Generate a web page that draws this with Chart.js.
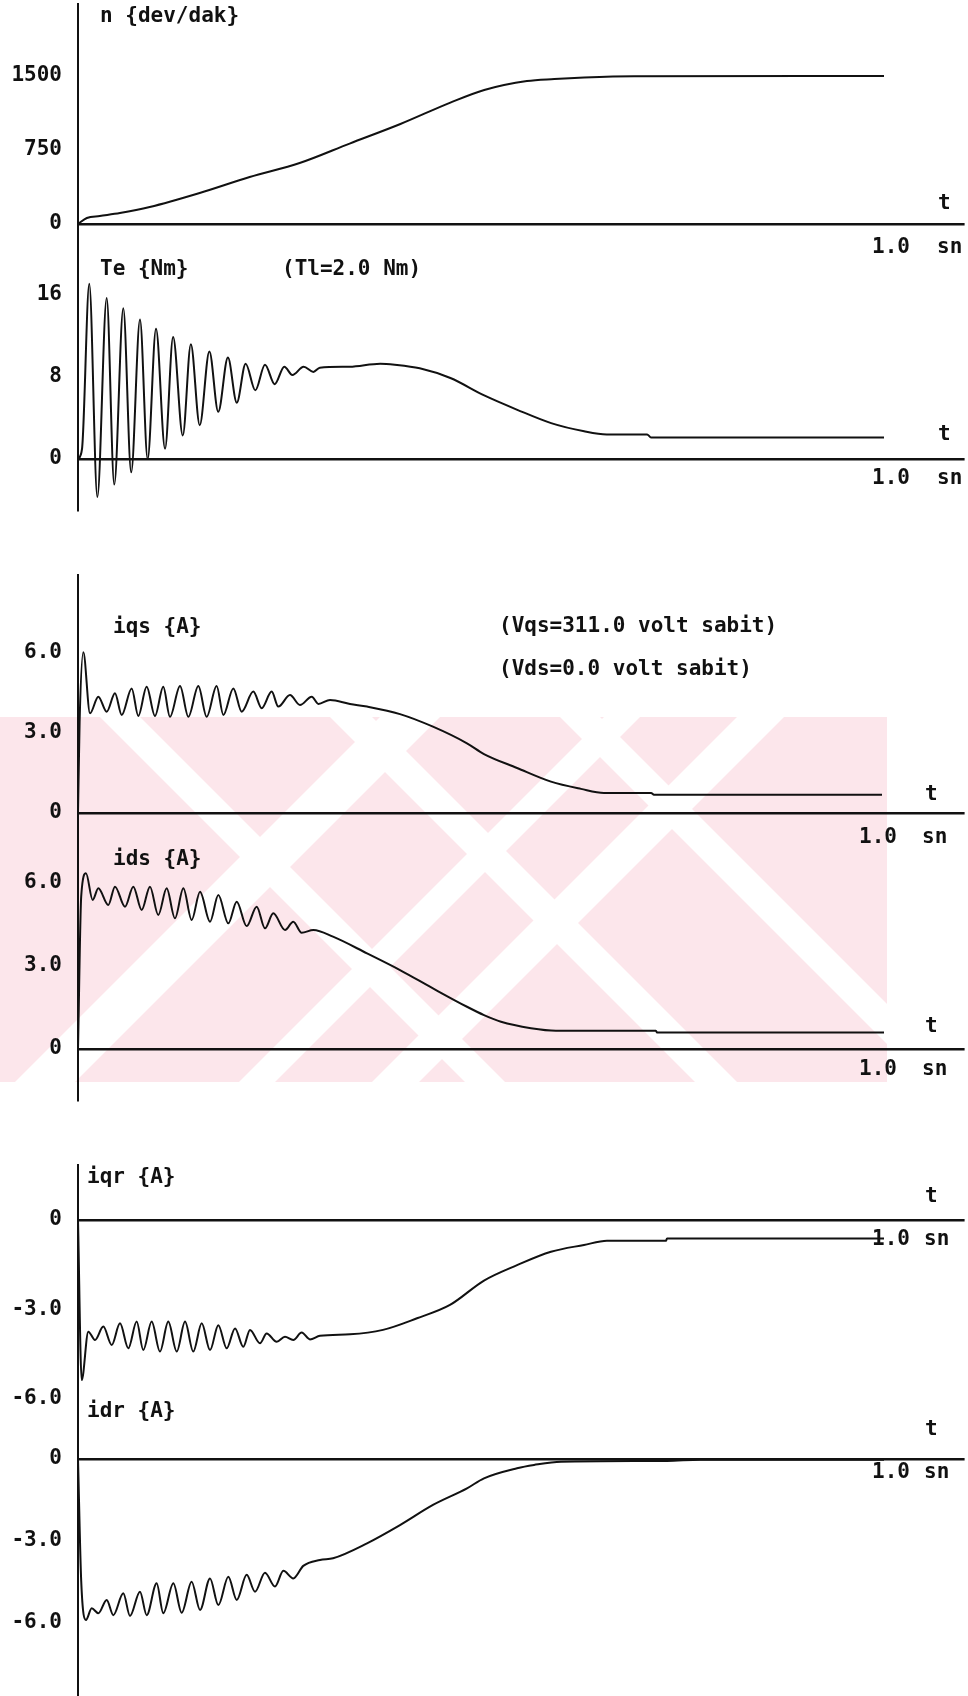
<!DOCTYPE html>
<html><head><meta charset="utf-8">
<script src="https://cdn.jsdelivr.net/npm/chart.js@4.4.0/dist/chart.umd.min.js"></script>
<style>
html,body{margin:0;padding:0;background:#fff;}
#page{position:relative;width:968px;height:1696px;overflow:hidden;background:#fff;}
#page canvas{position:absolute;left:0;}
</style></head>
<body><div id="page"></div>
<script>
// ---------------- data (time in s) ----------------
const nTime   = [0, 0.011, 0.027, 0.052, 0.089, 0.151, 0.213, 0.275, 0.337, 0.400, 0.462, 0.504, 0.557, 0.591, 0.628, 0.690, 1.000];
const nValues = [0, 61, 81, 111, 172, 314, 476, 618, 815, 1013, 1230, 1358, 1449, 1469, 1484, 1497, 1500];

const teTime   = [0, 0.005, 0.014, 0.024, 0.0356, 0.045, 0.0562, 0.066, 0.0769, 0.0864, 0.0968, 0.108, 0.118, 0.130, 0.140, 0.151, 0.163, 0.174, 0.186, 0.197, 0.208, 0.220, 0.232, 0.244, 0.256, 0.266, 0.280, 0.292, 0.300, 0.337, 0.375, 0.393, 0.424, 0.462, 0.504, 0.545, 0.587, 0.628, 0.656, 0.706, 0.711, 1.000];
const teValues = [0, 1.0, 17.1, -3.7, 15.7, -2.5, 14.7, -1.3, 13.6, 0.0, 12.7, 1.0, 11.9, 2.3, 11.2, 3.3, 10.5, 4.6, 9.9, 5.5, 9.3, 6.7, 9.2, 7.3, 9.0, 8.2, 9.0, 8.5, 8.9, 9.0, 9.3, 9.2, 8.85, 7.9, 6.2, 4.8, 3.5, 2.7, 2.4, 2.4, 2.1, 2.1];

const iqsTime   = [0, 0.002, 0.0066, 0.0149, 0.0252, 0.0356, 0.0459, 0.0542, 0.0666, 0.0748, 0.0852, 0.0955, 0.1058, 0.1141, 0.1266, 0.1369, 0.1493, 0.1596, 0.172, 0.1803, 0.1927, 0.2031, 0.2175, 0.2279, 0.2403, 0.2485, 0.263, 0.2754, 0.29, 0.2982, 0.3127, 0.3375, 0.3586, 0.3995, 0.4404, 0.4826, 0.5037, 0.5447, 0.5868, 0.624, 0.6526, 0.711, 0.7146, 0.9975];
const iqsValues = [0, 3.4, 6.0, 3.72, 4.34, 3.78, 4.47, 3.66, 4.65, 3.62, 4.71, 3.62, 4.71, 3.59, 4.74, 3.59, 4.74, 3.59, 4.74, 3.66, 4.65, 3.78, 4.53, 3.91, 4.53, 3.97, 4.40, 4.03, 4.34, 4.07, 4.22, 4.07, 3.97, 3.69, 3.22, 2.6, 2.2, 1.68, 1.17, 0.9, 0.75, 0.75, 0.68, 0.68];

const idsTime   = [0, 0.004, 0.0099, 0.0182, 0.0252, 0.0376, 0.0459, 0.0583, 0.0686, 0.079, 0.0893, 0.0996, 0.11, 0.1203, 0.1307, 0.141, 0.1514, 0.1638, 0.1741, 0.1865, 0.1969, 0.2093, 0.2217, 0.232, 0.2423, 0.2568, 0.2671, 0.2775, 0.292, 0.3164, 0.3586, 0.3995, 0.4404, 0.4826, 0.5037, 0.5248, 0.562, 0.593, 0.717, 0.7184, 1.0];
const idsValues = [0, 5.5, 6.32, 5.36, 5.78, 5.18, 5.84, 5.12, 5.84, 5.0, 5.84, 4.82, 5.78, 4.70, 5.78, 4.64, 5.66, 4.58, 5.54, 4.52, 5.30, 4.42, 5.12, 4.34, 4.88, 4.28, 4.58, 4.18, 4.28, 4.04, 3.44, 2.84, 2.18, 1.52, 1.22, 0.98, 0.75, 0.66, 0.66, 0.59, 0.59];

const iqrTime   = [0, 0.0046, 0.0128, 0.0211, 0.0314, 0.0418, 0.0521, 0.0624, 0.0728, 0.081, 0.0914, 0.1017, 0.112, 0.1225, 0.1328, 0.143, 0.1535, 0.1638, 0.1741, 0.1845, 0.1948, 0.2051, 0.2134, 0.2258, 0.2341, 0.2465, 0.2568, 0.2671, 0.2775, 0.2878, 0.3002, 0.3375, 0.3784, 0.4206, 0.4615, 0.5037, 0.5447, 0.5868, 0.6278, 0.6563, 0.7295, 0.7308, 1.0];
const iqrValues = [0, -5.39, -3.76, -4.04, -3.59, -4.21, -3.48, -4.32, -3.42, -4.38, -3.42, -4.43, -3.42, -4.43, -3.42, -4.43, -3.48, -4.38, -3.54, -4.32, -3.65, -4.27, -3.70, -4.15, -3.82, -4.10, -3.93, -4.04, -3.79, -4.02, -3.9, -3.85, -3.70, -3.31, -2.86, -2.04, -1.52, -1.07, -0.84, -0.70, -0.70, -0.62, -0.62];

const idrTime   = [0, 0.004, 0.0099, 0.017, 0.0252, 0.0356, 0.0438, 0.0562, 0.0645, 0.0769, 0.0852, 0.0976, 0.1058, 0.1183, 0.1286, 0.141, 0.1514, 0.1638, 0.1741, 0.1865, 0.1969, 0.2093, 0.2196, 0.232, 0.2444, 0.2548, 0.2671, 0.2795, 0.3002, 0.3164, 0.3586, 0.3995, 0.4404, 0.4826, 0.5037, 0.5447, 0.5658, 0.5993, 0.7308, 0.772, 1.0];
const idrValues = [0, -4.5, -5.92, -5.49, -5.67, -5.18, -5.74, -4.94, -5.77, -4.88, -5.74, -4.57, -5.67, -4.57, -5.65, -4.51, -5.55, -4.39, -5.37, -4.33, -5.18, -4.26, -4.88, -4.18, -4.69, -4.11, -4.39, -3.93, -3.71, -3.65, -3.10, -2.43, -1.69, -1.08, -0.71, -0.34, -0.22, -0.10, -0.07, -0.03, -0.03];

// tick values and labels
const nTicks = [0, 750, 1500];        const nTickLabels = ['0', '750', '1500'];
const teTicks = [0, 8, 16];           const teTickLabels = ['0', '8', '16'];
const iqsTicks = [0, 3, 6];           const iqsTickLabels = ['0', '3.0', '6.0'];
const idsTicks = [0, 3, 6];           const idsTickLabels = ['0', '3.0', '6.0'];
const iqrTicks = [0, -3, -6];         const iqrTickLabels = ['0', '-3.0', '-6.0'];
const idrTicks = [0, -3, -6];         const idrTickLabels = ['0', '-3.0', '-6.0'];

// texts
const nTexts   = [['n {dev/dak}', 100, 17], ['t', 938, 204], ['1.0', 872, 248], ['sn', 937, 248]];
const teTexts  = [['Te {Nm}', 100, 270], ['(Tl=2.0 Nm)', 282, 270], ['t', 938, 435], ['1.0', 872, 479], ['sn', 937, 479]];
const iqsTexts = [['iqs {A}', 113, 628], ['(Vqs=311.0 volt sabit)', 499, 627], ['(Vds=0.0 volt sabit)', 499, 670], ['t', 925, 795], ['1.0', 859, 838], ['sn', 922, 838]];
const idsTexts = [['ids {A}', 113, 860], ['t', 925, 1027], ['1.0', 859, 1070], ['sn', 922, 1070]];
const iqrTexts = [['iqr {A}', 87, 1178], ['t', 925, 1197], ['1.0', 872, 1240], ['sn', 924, 1240]];
const idrTexts = [['idr {A}', 87, 1412], ['t', 925, 1430], ['1.0', 872, 1473], ['sn', 924, 1473]];

// ---------------- drawing ----------------
const PAGE_H = 1696, PAGE_W = 968;
const FAMILY = '"DejaVu Sans Mono", "Liberation Mono", monospace';
const FONT = {family: FAMILY, size: 21, weight: 'bold'};
const INK = '#111';
const page = document.getElementById('page');

// faint pink watermark of the scanned page (background decoration only)
(function () {
  const wm = document.createElement('canvas');
  wm.width = PAGE_W; wm.height = PAGE_H; wm.style.top = '0px';
  page.appendChild(wm);
  const g = wm.getContext('2d');
  const T = 717, B = 1082, R = 887, H = B - T;
  g.save();
  g.beginPath(); g.rect(0, T, R, H); g.clip();
  g.fillStyle = '#fce6eb';
  g.fillRect(0, T, R, H);
  g.fillStyle = '#ffffff';
  // "\" white stripes: x - (y - T) in [a, b]
  [[100, 140], [330, 372], [560, 600]].forEach(([a, b]) => {
    g.beginPath(); g.moveTo(a, T); g.lineTo(b, T); g.lineTo(b + H, B); g.lineTo(a + H, B); g.closePath(); g.fill();
  });
  // "/" white stripes: x + (y - T) in [a, b]
  [[380, 440], [604, 640], [737, 784]].forEach(([a, b]) => {
    g.beginPath(); g.moveTo(a, T); g.lineTo(b, T); g.lineTo(b - H, B); g.lineTo(a - H, B); g.closePath(); g.fill();
  });
  g.restore();
})();

function textPlugin(items, canvasTop) {
  return {
    id: 'txt',
    afterDraw(chart) {
      const ctx = chart.ctx;
      ctx.save();
      ctx.font = 'bold 21px ' + FAMILY;
      ctx.fillStyle = INK;
      ctx.textBaseline = 'middle';
      ctx.textAlign = 'left';
      items.forEach(it => ctx.fillText(it[0], it[1], it[2] - canvasTop));
      ctx.restore();
    }
  };
}

function makePanel(cfg) {
  const MARGIN = 16;
  const cTop = Math.max(0, cfg.top - MARGIN);
  const cBot = Math.min(PAGE_H, cfg.bottom + MARGIN);
  const cv = document.createElement('canvas');
  cv.width = PAGE_W; cv.height = cBot - cTop;
  cv.style.top = cTop + 'px';
  page.appendChild(cv);
  const yMax = (cfg.zeroY - cfg.top) / cfg.unitPx;
  const yMin = -(cfg.bottom - cfg.zeroY) / cfg.unitPx;
  const pts = cfg.time.map((t, i) => ({x: t, y: cfg.values[i]}));
  new Chart(cv, {
    type: 'line',
    data: {datasets: [{data: pts, borderColor: INK, borderWidth: 2, pointRadius: 0,
      cubicInterpolationMode: 'monotone', fill: false}]},
    options: {
      responsive: false, animation: false, devicePixelRatio: 1,
      layout: {padding: {left: 0, right: 3.4, top: cfg.top - cTop, bottom: cBot - cfg.bottom}},
      plugins: {legend: {display: false}, tooltip: {enabled: false}},
      scales: {
        x: {type: 'linear', min: 0, max: 1.1, display: false},
        y: {
          type: 'linear', min: yMin, max: yMax,
          afterFit(s) { s.width = 78; s.paddingTop = 0; s.paddingBottom = 0; },
          afterBuildTicks(s) { s.ticks = cfg.ticks.map(v => ({value: v})); },
          ticks: {
            autoSkip: false,
            callback: (v) => { const i = cfg.ticks.indexOf(v); return i >= 0 ? cfg.tickLabels[i] : ''; },
            font: FONT, color: INK, padding: 16
          },
          grid: {
            drawTicks: false,
            color: (c) => (c.tick && c.tick.value === 0) ? INK : 'rgba(0,0,0,0)',
            lineWidth: (c) => (c.tick && c.tick.value === 0) ? 2.6 : 0
          },
          border: {display: true, color: INK, width: 2}
        }
      }
    },
    plugins: [textPlugin(cfg.texts, cTop)]
  });
}

makePanel({top: 4,    bottom: 262,  zeroY: 224,  unitPx: 0.0987, time: nTime,   values: nValues,   ticks: nTicks,   tickLabels: nTickLabels,   texts: nTexts});
makePanel({top: 262,  bottom: 510,  zeroY: 459,  unitPx: 10.25,  time: teTime,  values: teValues,  ticks: teTicks,  tickLabels: teTickLabels,  texts: teTexts});
makePanel({top: 575,  bottom: 848,  zeroY: 813,  unitPx: 26.8,   time: iqsTime, values: iqsValues, ticks: iqsTicks, tickLabels: iqsTickLabels, texts: iqsTexts});
makePanel({top: 848,  bottom: 1100, zeroY: 1049, unitPx: 27.8,   time: idsTime, values: idsValues, ticks: idsTicks, tickLabels: idsTickLabels, texts: idsTexts});
makePanel({top: 1165, bottom: 1405, zeroY: 1220, unitPx: 29.7,   time: iqrTime, values: iqrValues, ticks: iqrTicks, tickLabels: iqrTickLabels, texts: iqrTexts});
makePanel({top: 1405, bottom: 1696, zeroY: 1459, unitPx: 27.2,   time: idrTime, values: idrValues, ticks: idrTicks, tickLabels: idrTickLabels, texts: idrTexts});
</script>
</body></html>
